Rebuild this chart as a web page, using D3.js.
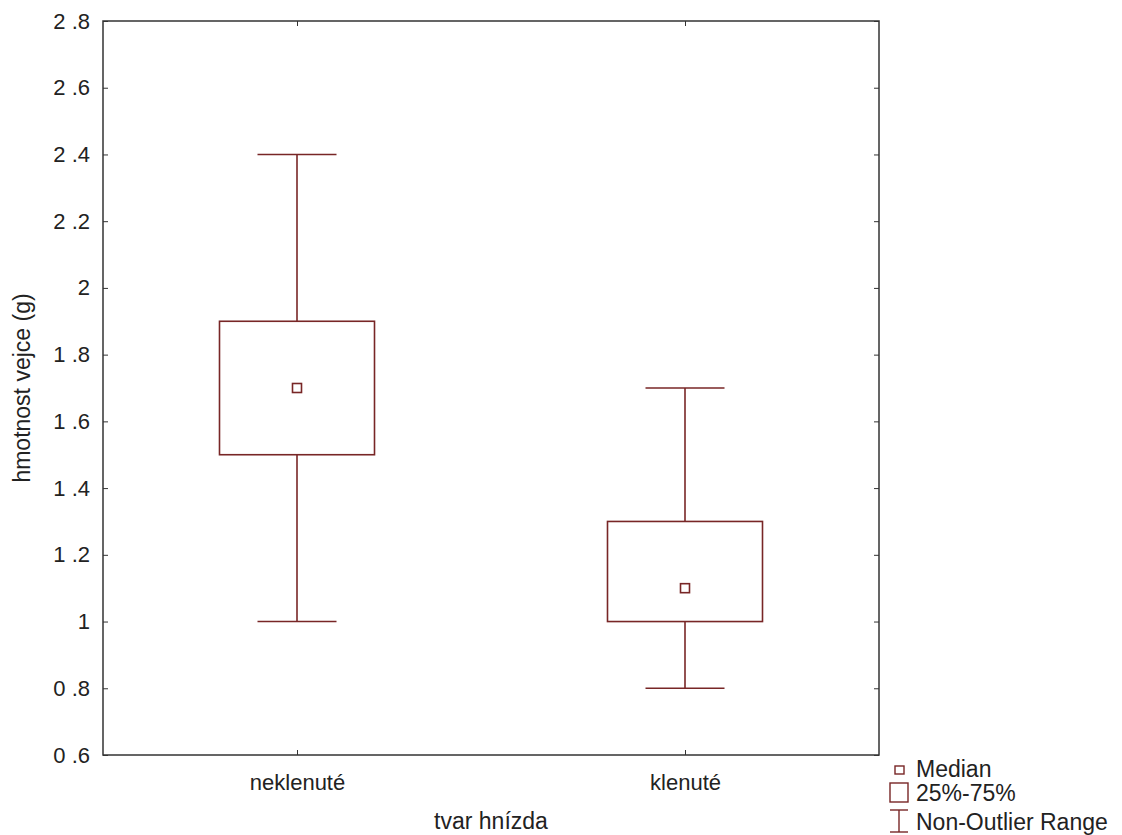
<!DOCTYPE html>
<html><head><meta charset="utf-8">
<script src="https://cdn.jsdelivr.net/npm/d3@7"></script>
<style>body{margin:0;background:#fff;} text{font-family:Arial,"Liberation Sans",sans-serif;}</style>
</head><body>
<svg id="c" width="1122" height="835"></svg>
<script>
const categories = ["neklenuté", "klenuté"];
const mins = [1.0, 0.8];
const q1s = [1.5, 1.0];
const medians = [1.7, 1.1];
const q3s = [1.9, 1.3];
const maxs = [2.4, 1.7];
const yTicks = [0.6, 0.8, 1.0, 1.2, 1.4, 1.6, 1.8, 2.0, 2.2, 2.4, 2.6, 2.8];
const yTickLabels = ["0 .6", "0 .8", "1", "1 .2", "1 .4", "1 .6", "1 .8", "2", "2 .2", "2 .4", "2 .6", "2 .8"];

const svg = d3.select("#c");
const L = 103, R = 879, T = 21, B = 755;
const col = "#782626";
const txt = "#222";
const x = d3.scalePoint().domain(categories).range([L, R]).padding(0.5);
const y = d3.scaleLinear().domain([0.6, 2.8]).range([B, T]);

// frame
svg.append("rect").attr("x", L).attr("y", T).attr("width", R - L).attr("height", B - T)
  .attr("fill", "none").attr("stroke", "#333").attr("stroke-width", 1.5);

// y ticks
const yl = svg.append("g").attr("transform", `translate(${L},0)`)
  .call(d3.axisLeft(y).tickValues(yTicks).tickSize(-5).tickPadding(13).tickFormat((d, i) => yTickLabels[i]));
yl.select(".domain").remove();
yl.selectAll("line").attr("stroke", "#333");
yl.selectAll("text").attr("font-size", 22).attr("fill", txt);
const yr = svg.append("g").attr("transform", `translate(${R},0)`)
  .call(d3.axisRight(y).tickValues(yTicks).tickSize(-5).tickFormat(""));
yr.select(".domain").remove();
yr.selectAll("line").attr("stroke", "#333");

// x ticks
const xb = svg.append("g").attr("transform", `translate(0,${B})`)
  .call(d3.axisBottom(x).tickSize(-5).tickPadding(0));
xb.select(".domain").remove();
xb.selectAll("line").attr("stroke", "#333");
xb.selectAll("text").attr("font-size", 22).attr("fill", txt).attr("dy", null).attr("y", 35);
const xt = svg.append("g").attr("transform", `translate(0,${T})`)
  .call(d3.axisTop(x).tickSize(-5).tickFormat(""));
xt.select(".domain").remove();
xt.selectAll("line").attr("stroke", "#333");

// axis titles
svg.append("text").attr("x", (L + R) / 2).attr("y", 829).attr("text-anchor", "middle")
  .attr("font-size", 23).attr("fill", txt).text("tvar hnízda");
svg.append("text").attr("transform", `translate(30,${(T + B) / 2}) rotate(-90)`).attr("text-anchor", "middle")
  .attr("font-size", 23).attr("fill", txt).text("hmotnost vejce (g)");

// boxes
const boxW = 155, capW = 79, medS = 9;
const data = categories.map((c, i) => ({c, min: mins[i], q1: q1s[i], med: medians[i], q3: q3s[i], max: maxs[i]}));
const g = svg.append("g").attr("stroke", col).attr("fill", "none").attr("stroke-width", 1.6);
data.forEach(d => {
  const cx = x(d.c);
  g.append("line").attr("x1", cx).attr("x2", cx).attr("y1", y(d.max)).attr("y2", y(d.q3));
  g.append("line").attr("x1", cx).attr("x2", cx).attr("y1", y(d.q1)).attr("y2", y(d.min));
  g.append("line").attr("x1", cx - capW / 2).attr("x2", cx + capW / 2).attr("y1", y(d.max)).attr("y2", y(d.max));
  g.append("line").attr("x1", cx - capW / 2).attr("x2", cx + capW / 2).attr("y1", y(d.min)).attr("y2", y(d.min));
  g.append("rect").attr("x", cx - boxW / 2).attr("width", boxW).attr("y", y(d.q3)).attr("height", y(d.q1) - y(d.q3));
  g.append("rect").attr("x", cx - medS / 2).attr("y", y(d.med) - medS / 2).attr("width", medS).attr("height", medS);
});

// legend
const lg = svg.append("g");
lg.append("rect").attr("x", 895).attr("y", 766).attr("width", 9).attr("height", 8).attr("fill", "none").attr("stroke", col).attr("stroke-width", 1.4);
lg.append("text").attr("x", 916).attr("y", 777).attr("font-size", 23).attr("fill", txt).text("Median");
lg.append("rect").attr("x", 890).attr("y", 783).attr("width", 18).attr("height", 19).attr("fill", "none").attr("stroke", col).attr("stroke-width", 1.4);
lg.append("text").attr("x", 916).attr("y", 801).attr("font-size", 23).attr("fill", txt).text("25%-75%");
lg.append("line").attr("x1", 890).attr("x2", 908).attr("y1", 810).attr("y2", 810).attr("stroke", col).attr("stroke-width", 1.4);
lg.append("line").attr("x1", 899).attr("x2", 899).attr("y1", 810).attr("y2", 832).attr("stroke", col).attr("stroke-width", 1.4);
lg.append("line").attr("x1", 890).attr("x2", 908).attr("y1", 832).attr("y2", 832).attr("stroke", col).attr("stroke-width", 1.4);
lg.append("text").attr("x", 916).attr("y", 830).attr("font-size", 23).attr("fill", txt).text("Non-Outlier Range");
</script>
</body></html>
